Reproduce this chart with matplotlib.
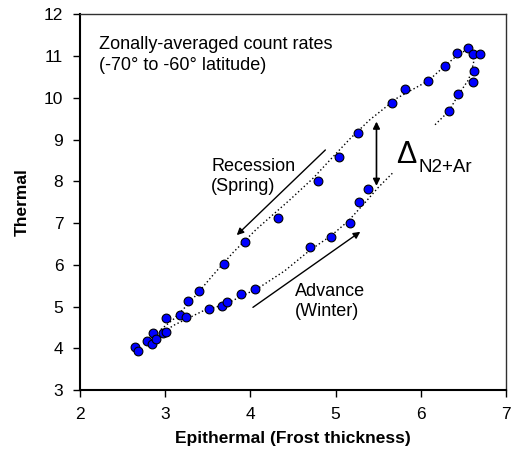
import matplotlib
matplotlib.use("Agg")
import matplotlib.pyplot as plt

plt.rcParams['font.family'] = ['Liberation Sans', 'DejaVu Sans']

# measured count rates (epithermal, thermal)
epithermal = [2.65, 2.68, 2.79, 2.85, 2.86, 2.89, 2.97, 3.01,
              3.01, 3.17, 3.24, 3.27, 3.40, 3.69, 3.94, 4.33, 4.79, 5.04, 5.26,
              5.66, 5.82, 6.09, 6.28, 6.43, 6.55, 6.61, 6.69, 6.62, 6.61, 6.44, 6.33,
              3.51, 3.67, 3.73, 3.89, 4.05, 4.70, 4.95, 5.17, 5.28, 5.38]
thermal = [4.02, 3.93, 4.17, 4.10, 4.36, 4.23, 4.36, 4.39,
           4.73, 4.80, 4.76, 5.13, 5.38, 6.03, 6.54, 7.11, 8.00, 8.59, 9.16,
           9.88, 10.21, 10.41, 10.77, 11.08, 11.19, 11.05, 11.05, 10.65, 10.39, 10.08, 9.68,
           4.93, 5.02, 5.11, 5.31, 5.41, 6.42, 6.66, 7.00, 7.50, 7.82]

# dotted trend lines
spring_x = [2.95, 3.10, 3.29, 3.56, 3.80, 4.07, 4.46, 4.74, 4.93, 5.17, 5.40, 5.72,
            6.09, 6.28, 6.46, 6.54, 6.61, 6.62, 6.60, 6.56, 6.44, 6.33, 6.15]
spring_y = [4.45, 4.70, 5.10, 5.75, 6.30, 6.85, 7.55, 8.08, 8.50, 9.02, 9.47, 9.99,
            10.41, 10.76, 11.07, 11.14, 11.07, 10.85, 10.67, 10.43, 10.07, 9.68, 9.32]
winter_x = [2.95, 3.10, 3.25, 3.45, 3.70, 3.90, 4.10, 4.40, 4.70, 4.95, 5.15, 5.35, 5.50, 5.68]
winter_y = [4.35, 4.55, 4.70, 4.90, 5.05, 5.25, 5.45, 5.85, 6.35, 6.70, 7.05, 7.50, 7.85, 8.22]

fig = plt.figure(figsize=(5.14, 4.61), dpi=100)
ax = fig.add_axes([0.1556, 0.154, 0.8288, 0.815])

dots = (0, (1, 1.8))
ax.plot(spring_x, spring_y, color='black', lw=1, linestyle=dots, zorder=2)
ax.plot(winter_x, winter_y, color='black', lw=1, linestyle=dots, zorder=2)
ax.scatter(epithermal, thermal, s=40, color='#0000ff', edgecolor='black',
           linewidth=0.8, zorder=3)

ax.set_xlim(2, 7)
ax.set_ylim(3, 12)
ax.set_xticks(range(2, 8))
ax.set_yticks(range(3, 13))
ax.tick_params(direction='out', length=5, width=1, labelsize=12.5, pad=7)
for s in ['left', 'bottom']:
    ax.spines[s].set_linewidth(1.5)
for s in ['top', 'right']:
    ax.spines[s].set_linewidth(1)
    ax.spines[s].set_color('#303030')

ax.set_xlabel('Epithermal (Frost thickness)', fontsize=12.5, fontweight='bold', labelpad=7)
ax.set_ylabel('Thermal', fontsize=12.5, fontweight='bold', labelpad=10)

ax.text(2.22, 11.47, 'Zonally-averaged count rates\n(-70\u00b0 to -60\u00b0 latitude)',
        fontsize=13, va='top', ha='left', linespacing=1.3)

arrow = dict(arrowstyle='-|>', color='black', lw=1, mutation_scale=10, shrinkA=0, shrinkB=0)
ax.annotate('', xy=(3.84, 6.71), xytext=(4.88, 8.75), arrowprops=arrow)
ax.annotate('', xy=(5.29, 6.79), xytext=(4.03, 4.98), arrowprops=arrow)
ax.annotate('', xy=(5.48, 9.43), xytext=(5.48, 7.89),
            arrowprops=dict(arrowstyle='<|-|>', color='black', lw=1.2,
                            mutation_scale=10, shrinkA=0, shrinkB=0))

ax.text(3.54, 8.12, 'Recession\n(Spring)', fontsize=13, ha='left', va='center', linespacing=1.25)
ax.text(4.52, 5.12, 'Advance\n(Winter)', fontsize=13, ha='left', va='center', linespacing=1.25)
ax.text(5.71, 8.44, '\u0394', fontsize=22, ha='left', va='baseline')
ax.text(5.97, 8.22, 'N2+Ar', fontsize=13.5, ha='left', va='baseline')

fig.savefig('out.png', dpi=100)
